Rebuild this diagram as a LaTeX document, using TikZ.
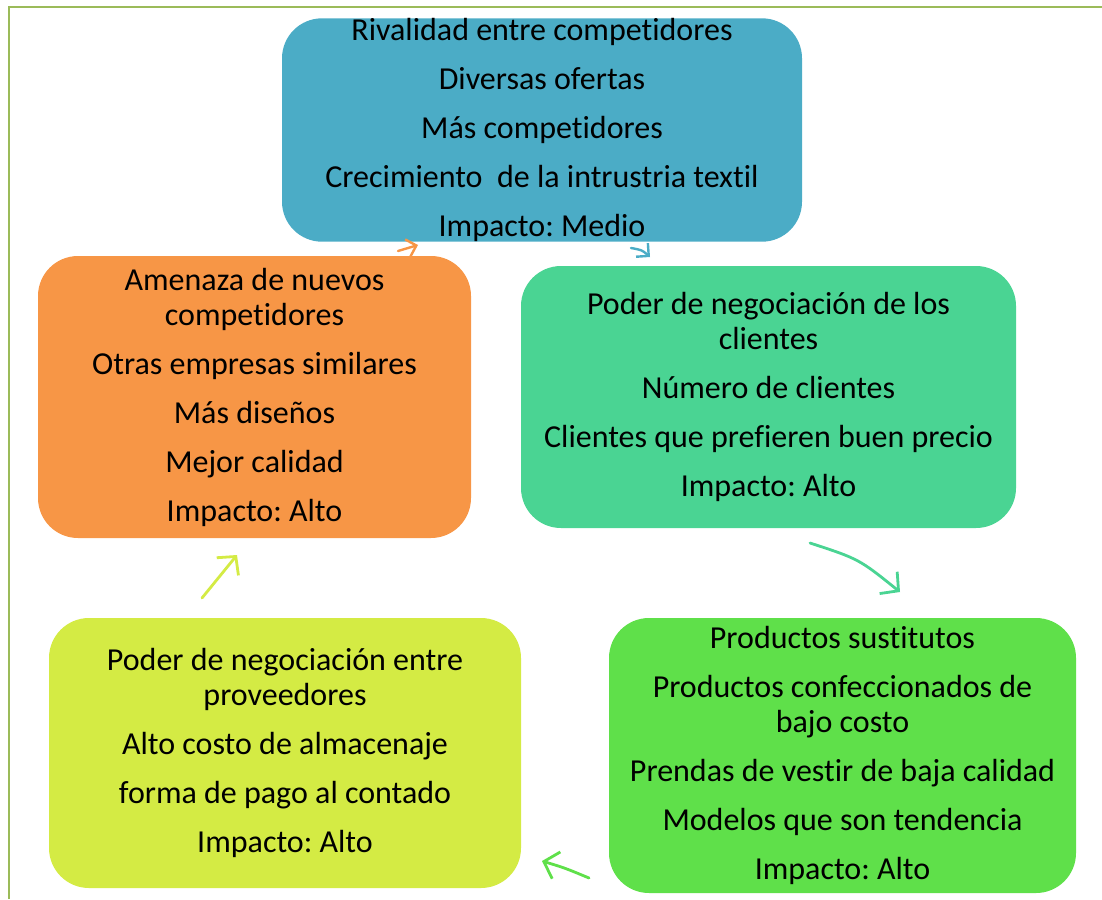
\documentclass[tikz,border=0pt]{standalone}
\usepackage{fontspec}
\setmainfont{Carlito}[Ligatures=CommonOff]
\usetikzlibrary{arrows.meta}
\definecolor{cblue}{HTML}{4BACC6}
\definecolor{corange}{HTML}{F79646}
\definecolor{cteal}{HTML}{4AD493}
\definecolor{cgreen}{HTML}{5FE04A}
\definecolor{cyellow}{HTML}{D4EB44}
\definecolor{cframe}{HTML}{9BBB59}
\tikzset{
  forcebox/.style={rounded corners=40pt, inner sep=0pt, align=center, text=black,
    font=\frenchspacing\fontsize{32}{35}\selectfont},
  flow/.style={line width=2.8pt, line cap=round, -{Straight Barb[length=13pt,width=28pt,line width=2.8pt]}},
  smallflow/.style={line width=2.4pt, line cap=round, -{Straight Barb[length=9pt,width=18pt,line width=2.4pt]}}
}
\begin{document}
\begin{tikzpicture}[x=1pt,y=-1pt]
\useasboundingbox (0,0) rectangle (1102,899);
\draw[cframe, line width=2pt] (9,899) -- (9,7) -- (1102,7);

% arrows
\coordinate (a1s) at (631,248); \coordinate (a1e) at (650,257);
\coordinate (a2s) at (398,251); \coordinate (a2e) at (418,245);
\coordinate (a3s) at (810,543); \coordinate (a3e) at (900,592);
\coordinate (a4s) at (589,878); \coordinate (a4e) at (542,861);
\coordinate (a5s) at (202,598); \coordinate (a5e) at (237,555);

\node[forcebox, fill=cblue, minimum width=520pt, minimum height=220pt] (rival) at (542,130)
 {Rivalidad entre competidores\\[14pt]Diversas ofertas\\[14pt]Más competidores\\[14pt]Crecimiento~ de la intrustria textil\\[14pt]Impacto: Medio};
\node[forcebox, fill=corange, minimum width=433pt, minimum height=282pt] (nuevos) at (254.5,397)
 {Amenaza de nuevos\\competidores\\[14pt]Otras empresas similares\\[14pt]Más diseños\\[14pt]Mejor calidad\\[14pt]Impacto: Alto};
\node[forcebox, fill=cteal, minimum width=495pt, minimum height=262pt] (clientes) at (768.5,397)
 {Poder de negociación de los\\clientes\\[14pt]Número de clientes\\[14pt]Clientes que prefieren buen precio\\[14pt]Impacto: Alto};
\node[forcebox, fill=cgreen, minimum width=467pt, minimum height=275pt] (sustitutos) at (842.5,755.5)
 {Productos sustitutos\\[14pt]Productos confeccionados de\\bajo costo\\[14pt]Prendas de vestir de baja calidad\\[14pt]Modelos que son tendencia\\[14pt]Impacto: Alto};
\node[forcebox, fill=cyellow, minimum width=472pt, minimum height=270pt] (proveedores) at (285,753)
 {Poder de negociación entre\\proveedores\\[14pt]Alto costo de almacenaje\\[14pt]forma de pago al contado\\[14pt]Impacto: Alto};

\draw[smallflow, cblue] (a1s) .. controls (642,250) .. (a1e);
\draw[smallflow, corange] (a2s) -- (a2e);
\draw[flow, cteal] (a3s) .. controls (859,559) .. (a3e);
\draw[flow, cgreen] (a4s) .. controls (565,868) .. (a4e);
\draw[flow, cyellow] (a5s) -- (a5e);
\end{tikzpicture}
\end{document}
